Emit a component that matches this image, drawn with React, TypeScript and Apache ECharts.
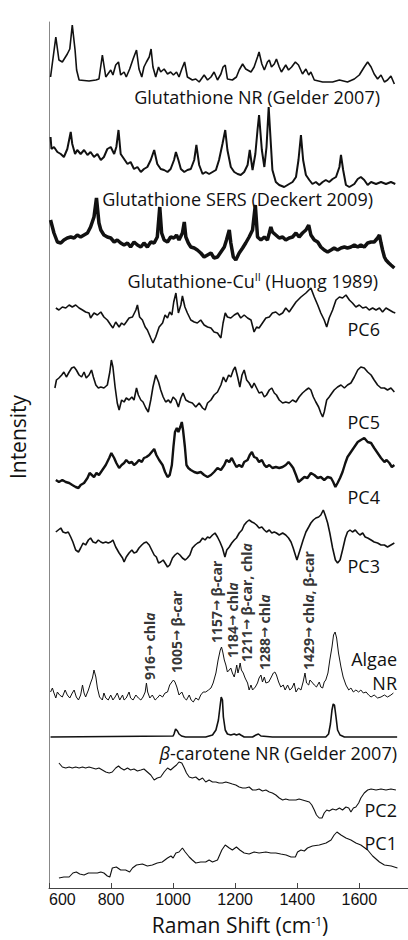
import React, { useEffect, useRef } from "react";
import * as echarts from "echarts";

// Raman shift axis
const X_MIN = 600;
const X_MAX = 1757;
const X_TICKS = [600, 800, 1000, 1200, 1400, 1600];
const Y_MAX = 866;

// Vertical offsets of each stacked trace (arbitrary intensity units)
const OFF_NR = 806;
const OFF_SERS = 701;
const OFF_CU = 638;
const OFF_PC6 = 568;
const OFF_PC5 = 488;
const OFF_PC4 = 408;
const OFF_PC3 = 338;
const OFF_ALGAE = 188;
const OFF_BCAR = 151;
const OFF_PC2 = 98;
const OFF_PC1 = 10;

const glutNR: [number, number][] = [[605,5],[622,45],[632,22],[643,20],[659,28],[667,33],[675,57],[684,32],[689,12],[697,2],[729,1],[751,2],[761,3],[772,27],[783,5],[799,12],[806,7],[815,17],[824,20],[831,7],[842,10],[849,5],[860,13],[871,23],[882,32],[890,13],[899,5],[906,15],[914,20],[923,25],[929,33],[935,15],[944,5],[953,15],[960,10],[971,13],[982,8],[992,10],[1001,7],[1011,10],[1019,5],[1028,13],[1037,20],[1046,5],[1062,2],[1073,3],[1084,0],[1100,7],[1111,2],[1122,5],[1132,10],[1143,2],[1154,8],[1161,15],[1168,17],[1175,3],[1191,2],[1204,5],[1213,12],[1224,18],[1234,13],[1251,10],[1261,15],[1272,25],[1277,30],[1286,18],[1294,12],[1304,20],[1310,22],[1317,15],[1326,18],[1333,23],[1342,15],[1349,10],[1363,17],[1372,12],[1382,15],[1394,20],[1404,17],[1417,8],[1428,13],[1437,7],[1444,10],[1455,2],[1482,0],[1514,0],[1536,2],[1562,0],[1584,3],[1600,7],[1616,15],[1627,20],[1638,15],[1648,8],[1659,3],[1670,7],[1681,0],[1691,2],[1702,6],[1713,-2]];

const glutSERS: [number, number][] = [[605,50],[608,38],[616,40],[627,35],[638,33],[648,30],[659,38],[670,55],[675,43],[684,33],[691,37],[702,33],[713,37],[724,32],[734,35],[745,30],[756,33],[767,27],[777,30],[788,38],[799,40],[810,33],[817,40],[824,57],[831,33],[842,28],[853,23],[863,25],[874,18],[885,20],[896,15],[906,18],[917,20],[928,27],[939,37],[949,23],[960,18],[971,17],[982,15],[992,18],[1003,27],[1009,35],[1017,27],[1025,18],[1036,15],[1046,17],[1057,18],[1068,27],[1075,42],[1084,22],[1095,13],[1105,15],[1116,13],[1127,15],[1138,17],[1148,27],[1159,43],[1168,57],[1175,37],[1186,20],[1197,15],[1208,13],[1218,12],[1229,15],[1240,22],[1247,37],[1256,17],[1265,33],[1272,57],[1277,72],[1286,37],[1294,20],[1301,40],[1308,80],[1315,43],[1320,17],[1331,5],[1342,2],[1358,0],[1374,3],[1385,5],[1396,10],[1404,27],[1412,52],[1419,27],[1428,12],[1439,7],[1449,3],[1460,5],[1471,2],[1482,5],[1492,7],[1503,5],[1514,8],[1525,10],[1536,20],[1541,32],[1548,17],[1557,2],[1568,0],[1584,3],[1595,8],[1605,10],[1616,7],[1627,2],[1638,5],[1654,3],[1670,5],[1686,3],[1702,5],[1716,3]];

const glutCu: [number, number][] = [[605,30],[616,17],[627,8],[638,7],[648,10],[659,12],[670,13],[681,12],[691,15],[702,13],[713,15],[724,17],[734,23],[745,33],[753,52],[761,27],[767,20],[777,15],[788,13],[799,12],[810,8],[820,10],[831,7],[842,5],[853,7],[863,3],[874,8],[885,5],[896,3],[906,7],[917,3],[928,8],[939,7],[949,13],[957,43],[963,17],[971,10],[982,8],[992,13],[1003,12],[1011,15],[1019,10],[1030,17],[1036,28],[1041,13],[1049,7],[1057,3],[1068,2],[1078,0],[1089,-3],[1100,-7],[1111,-5],[1122,-3],[1132,-8],[1143,-7],[1154,-2],[1165,3],[1172,10],[1181,20],[1186,7],[1194,-7],[1202,-10],[1213,-3],[1224,2],[1234,7],[1245,13],[1256,20],[1265,45],[1272,13],[1283,10],[1294,13],[1304,10],[1310,17],[1315,23],[1320,18],[1331,15],[1342,12],[1353,13],[1363,10],[1374,12],[1385,13],[1396,17],[1406,13],[1417,17],[1428,20],[1437,25],[1444,15],[1455,10],[1466,8],[1476,3],[1487,0],[1498,-2],[1509,0],[1519,2],[1530,0],[1541,2],[1552,3],[1562,2],[1573,3],[1584,5],[1595,3],[1605,5],[1616,3],[1627,7],[1638,8],[1648,8],[1659,12],[1665,15],[1670,7],[1675,0],[1681,-7],[1686,-10],[1695,-13],[1702,-15],[1713,-18]];

const pc6: [number, number][] = [[622,12],[632,10],[643,13],[654,12],[665,15],[675,13],[686,15],[697,12],[708,10],[718,8],[729,7],[734,2],[745,7],[756,5],[767,8],[777,3],[788,0],[799,-5],[806,-8],[815,-2],[826,-7],[834,-3],[842,-5],[849,-2],[858,2],[869,3],[880,10],[885,15],[892,3],[901,0],[910,-7],[917,-10],[928,-18],[935,-23],[944,-17],[955,-7],[966,-3],[974,5],[982,2],[989,8],[996,5],[1002,18],[1009,27],[1017,7],[1025,15],[1030,24],[1038,13],[1046,7],[1057,0],[1068,-2],[1078,-3],[1089,0],[1100,-5],[1111,-7],[1122,-8],[1132,-12],[1143,-13],[1154,-18],[1161,-3],[1168,7],[1175,3],[1186,2],[1197,5],[1208,7],[1218,2],[1229,5],[1240,2],[1251,0],[1261,-12],[1269,-7],[1277,-8],[1288,-3],[1299,2],[1310,3],[1320,7],[1331,8],[1342,5],[1353,7],[1363,12],[1374,8],[1385,13],[1396,18],[1412,23],[1428,27],[1444,32],[1455,23],[1466,15],[1476,7],[1487,0],[1495,-7],[1503,2],[1514,10],[1525,20],[1536,23],[1546,22],[1557,25],[1568,20],[1578,17],[1589,13],[1600,15],[1611,12],[1622,13],[1632,10],[1643,12],[1654,10],[1665,12],[1675,8],[1686,12],[1697,10],[1708,8],[1716,7]];

const pc5: [number, number][] = [[619,12],[624,20],[632,22],[641,25],[648,28],[656,23],[665,28],[673,32],[681,33],[688,30],[697,25],[705,23],[713,28],[720,22],[729,25],[737,30],[743,23],[751,15],[759,12],[767,13],[777,12],[788,15],[796,28],[801,40],[806,33],[813,13],[820,-3],[826,-10],[834,0],[842,-2],[849,2],[858,0],[867,3],[874,0],[882,12],[888,5],[896,0],[903,-2],[912,-8],[920,-12],[928,0],[935,13],[944,25],[953,18],[960,10],[968,3],[976,-2],[985,0],[992,-3],[1000,3],[1009,0],[1017,-7],[1025,2],[1032,7],[1041,0],[1052,-2],[1062,-3],[1073,-7],[1084,-3],[1095,-8],[1103,-10],[1111,-3],[1122,0],[1132,5],[1143,8],[1154,15],[1162,23],[1170,18],[1179,25],[1186,23],[1194,30],[1200,33],[1208,23],[1215,13],[1222,25],[1229,30],[1237,20],[1245,17],[1254,12],[1261,17],[1269,12],[1277,7],[1286,8],[1294,3],[1301,5],[1310,10],[1318,12],[1326,7],[1333,5],[1342,0],[1353,-3],[1363,-2],[1374,-3],[1385,0],[1396,-2],[1406,3],[1417,7],[1428,10],[1437,12],[1444,10],[1452,3],[1460,-2],[1469,-7],[1476,-13],[1482,-17],[1487,-12],[1495,0],[1503,3],[1512,7],[1519,10],[1530,13],[1541,15],[1552,12],[1562,15],[1573,17],[1584,23],[1595,30],[1605,33],[1616,32],[1627,28],[1638,25],[1648,20],[1659,15],[1670,12],[1681,12],[1691,10],[1702,12],[1713,8]];

const pc4: [number, number][] = [[622,0],[632,-2],[643,0],[654,-2],[665,-3],[675,-5],[686,-7],[695,-8],[702,-5],[713,-3],[724,2],[731,7],[738,5],[745,3],[753,7],[761,5],[772,10],[783,15],[794,22],[801,27],[810,22],[817,17],[826,12],[834,15],[842,17],[849,20],[858,17],[867,18],[874,15],[882,17],[890,20],[899,18],[906,22],[914,23],[923,25],[931,28],[939,31],[946,25],[955,20],[966,15],[974,8],[982,3],[989,5],[996,15],[1001,33],[1006,48],[1012,52],[1017,48],[1023,53],[1028,58],[1032,50],[1038,33],[1043,15],[1049,12],[1057,10],[1068,8],[1078,7],[1089,8],[1100,5],[1111,3],[1122,5],[1132,8],[1143,12],[1154,10],[1165,15],[1172,20],[1181,18],[1189,22],[1197,17],[1204,13],[1213,15],[1222,13],[1229,18],[1240,20],[1247,25],[1254,28],[1261,23],[1269,22],[1277,18],[1286,20],[1294,15],[1301,13],[1310,15],[1320,12],[1331,13],[1342,12],[1353,13],[1363,15],[1372,18],[1380,15],[1387,12],[1396,5],[1404,-2],[1412,0],[1423,3],[1433,2],[1444,7],[1455,5],[1466,2],[1476,3],[1487,0],[1498,3],[1509,2],[1516,-2],[1523,-7],[1530,-3],[1538,2],[1546,8],[1555,17],[1562,23],[1573,28],[1584,33],[1595,38],[1605,40],[1616,42],[1627,38],[1638,37],[1648,32],[1659,27],[1670,22],[1681,18],[1688,20],[1697,17],[1705,13],[1713,15]];

const pc3: [number, number][] = [[622,18],[630,20],[638,22],[645,18],[654,17],[662,18],[670,13],[677,8],[686,0],[695,-2],[702,2],[710,7],[718,5],[727,10],[734,12],[742,8],[751,7],[759,10],[767,8],[774,7],[783,8],[791,7],[799,8],[806,10],[815,3],[826,-3],[837,-8],[842,-12],[849,-7],[858,-3],[867,0],[874,-3],[882,-2],[890,2],[899,5],[906,7],[914,8],[923,5],[931,0],[939,-5],[946,-7],[953,-13],[960,-12],[968,-10],[974,-13],[982,-17],[989,-15],[998,-8],[1006,-5],[1014,-3],[1022,-5],[1030,-8],[1039,-10],[1046,-8],[1054,-5],[1062,2],[1071,5],[1079,7],[1086,8],[1095,12],[1103,10],[1111,13],[1118,12],[1127,15],[1135,17],[1143,13],[1151,8],[1159,2],[1167,-7],[1173,0],[1181,3],[1189,7],[1197,10],[1204,12],[1213,17],[1222,20],[1229,25],[1237,28],[1245,30],[1254,28],[1261,27],[1269,25],[1277,22],[1286,23],[1294,20],[1301,18],[1310,20],[1318,17],[1326,18],[1333,17],[1342,15],[1353,17],[1363,15],[1372,12],[1380,8],[1387,2],[1394,-5],[1399,-10],[1404,-5],[1412,3],[1419,10],[1428,18],[1437,23],[1444,27],[1452,30],[1460,32],[1469,33],[1476,35],[1484,40],[1490,35],[1498,27],[1505,17],[1514,2],[1523,-10],[1530,-13],[1538,-10],[1546,0],[1555,12],[1562,18],[1570,20],[1578,18],[1587,20],[1595,17],[1602,15],[1611,17],[1619,13],[1627,12],[1638,10],[1648,8],[1659,7],[1670,5],[1681,5],[1691,3],[1702,5],[1713,7]];

const algaeNR: [number, number][] = [[605,8],[611,12],[616,7],[622,2],[627,8],[634,5],[643,3],[652,10],[659,5],[667,2],[675,7],[681,10],[688,3],[695,0],[702,5],[708,15],[713,7],[718,3],[727,10],[734,17],[740,22],[745,30],[751,23],[756,12],[763,3],[772,0],[777,7],[783,2],[791,0],[799,5],[806,0],[813,3],[820,7],[828,0],[837,5],[842,0],[849,2],[858,8],[863,2],[871,0],[880,5],[888,2],[896,0],[903,3],[910,8],[914,17],[918,8],[925,2],[933,5],[942,0],[949,2],[957,5],[966,3],[974,7],[982,8],[989,15],[996,18],[1001,20],[1006,18],[1012,13],[1019,5],[1028,8],[1036,2],[1043,0],[1052,5],[1058,0],[1065,-2],[1073,2],[1082,0],[1089,5],[1097,8],[1105,8],[1114,10],[1122,12],[1129,17],[1138,27],[1145,40],[1152,50],[1156,53],[1160,48],[1165,40],[1170,35],[1175,28],[1181,30],[1186,32],[1191,27],[1197,23],[1202,30],[1205,35],[1209,27],[1213,32],[1216,37],[1220,30],[1226,27],[1232,22],[1240,17],[1245,10],[1251,15],[1256,10],[1265,13],[1272,17],[1277,22],[1283,25],[1288,18],[1294,23],[1299,17],[1308,18],[1315,22],[1323,27],[1328,28],[1333,25],[1340,18],[1347,13],[1355,15],[1361,10],[1369,15],[1376,10],[1383,12],[1390,17],[1396,8],[1404,12],[1412,10],[1419,18],[1425,27],[1430,17],[1437,15],[1441,20],[1447,18],[1455,15],[1462,13],[1471,18],[1476,13],[1482,12],[1487,18],[1492,20],[1499,27],[1505,40],[1512,53],[1517,65],[1522,68],[1527,62],[1533,47],[1541,33],[1548,23],[1557,15],[1566,10],[1573,12],[1581,8],[1589,10],[1598,8],[1605,10],[1613,7],[1622,8],[1630,5],[1638,3],[1648,5],[1659,2],[1670,3],[1681,5],[1691,3],[1702,5],[1710,7]];

const bCarotene: [number, number][] = [[605,0],[1000,1],[1003,3],[1008,8],[1014,6],[1019,3],[1027,1],[1040,0],[1105,0],[1127,2],[1138,7],[1146,17],[1151,30],[1155,40],[1159,37],[1162,20],[1168,7],[1175,3],[1186,2],[1197,3],[1204,2],[1213,3],[1218,2],[1229,0],[1256,0],[1267,2],[1275,3],[1283,1],[1320,0],[1492,0],[1501,3],[1507,13],[1512,27],[1516,33],[1520,32],[1525,20],[1530,7],[1538,2],[1552,0],[1722,0]];

const pc2: [number, number][] = [[632,27],[643,23],[654,22],[665,23],[675,22],[686,23],[697,22],[708,23],[718,22],[729,23],[740,22],[751,21],[761,22],[772,20],[783,18],[794,17],[804,18],[815,22],[824,24],[831,22],[842,20],[853,22],[863,20],[874,21],[885,19],[896,20],[906,21],[917,18],[928,15],[939,10],[949,12],[960,13],[971,18],[982,22],[992,20],[1003,23],[1011,25],[1019,28],[1028,27],[1036,22],[1043,17],[1052,13],[1062,12],[1073,13],[1084,10],[1095,12],[1105,8],[1116,10],[1127,8],[1138,8],[1148,7],[1159,7],[1170,8],[1181,7],[1191,6],[1202,5],[1213,3],[1224,2],[1234,2],[1245,3],[1256,0],[1267,0],[1277,1],[1288,-1],[1299,0],[1310,-2],[1320,-3],[1331,-5],[1342,-8],[1353,-10],[1363,-9],[1374,-10],[1385,-10],[1396,-10],[1406,-9],[1417,-10],[1428,-11],[1439,-12],[1447,-15],[1455,-20],[1462,-25],[1471,-28],[1480,-28],[1487,-23],[1495,-20],[1503,-21],[1514,-19],[1525,-20],[1536,-18],[1546,-20],[1557,-17],[1566,-18],[1573,-22],[1581,-18],[1589,-17],[1598,-13],[1605,-8],[1616,-3],[1627,0],[1638,1],[1654,0],[1670,1],[1686,0],[1702,1],[1718,0]];

const pc1: [number, number][] = [[632,0],[648,1],[665,1],[677,5],[688,6],[699,4],[713,3],[727,5],[740,5],[756,5],[767,6],[777,5],[788,2],[796,1],[804,10],[817,11],[831,8],[847,8],[860,6],[869,10],[882,13],[901,14],[917,12],[933,13],[949,15],[965,16],[982,20],[993,22],[1000,20],[1009,25],[1019,26],[1030,30],[1039,26],[1052,21],[1062,18],[1073,15],[1089,16],[1105,16],[1116,18],[1127,16],[1143,18],[1157,28],[1168,33],[1181,30],[1191,28],[1204,31],[1215,28],[1229,25],[1245,24],[1261,26],[1277,25],[1299,26],[1315,25],[1331,25],[1347,24],[1364,23],[1380,21],[1394,21],[1401,26],[1412,28],[1423,27],[1433,30],[1449,32],[1471,33],[1493,35],[1509,38],[1519,43],[1528,46],[1541,43],[1557,40],[1573,38],[1589,35],[1605,33],[1627,28],[1643,22],[1665,16],[1681,13],[1703,12],[1723,10]];

// Band assignments on the algae spectrum
const annotShift = [916, 1005, 1157, 1184, 1211, 1288, 1429];
const annotTarget = ["chl{i|a}", "β-car", "β-car", "chl{i|a}", "β-car, chl{i|a}", "chl{i|a}", "chl{i|a}, β-car"];
const annotX = [925, 1012, 1141, 1190, 1238, 1296, 1435];
const annotY = [208, 215, 245, 230, 226, 218, 218];

const FONT = "'Open Sans', 'Noto Sans', sans-serif";
const NARROW = "'Liberation Sans Narrow', 'Open Sans', sans-serif";

export default function App() {
  const ref = useRef<HTMLDivElement>(null);
  useEffect(() => {
    if (!ref.current) return;
    const chart = echarts.init(ref.current, null, { renderer: "svg" });
    const mk = (name: string, data: [number, number][], offset: number, width: number) => ({
      name,
      type: "line",
      data: data.map(([x, v]) => [x, v + offset]),
      showSymbol: false,
      symbol: "none",
      clip: false,
      silent: true,
      lineStyle: { color: "#111", width },
      z: 3,
    });
    const txt = (text: string, x: number, y: number, extra: any = {}) => ({
      type: "text",
      x,
      y,
      silent: true,
      style: {
        text,
        fill: "#111",
        fontSize: 18,
        fontFamily: FONT,
        align: "right",
        textAlign: "right",
        verticalAlign: "middle",
        textVerticalAlign: "middle",
        ...extra,
      },
    });
    chart.setOption({
      animation: false,
      backgroundColor: "#fff",
      grid: { left: 49, right: 0, top: 22, bottom: 52 },
      xAxis: {
        type: "value",
        min: X_MIN,
        max: X_MAX,
        axisLine: { show: true, lineStyle: { color: "#444", width: 1 } },
        axisTick: { show: true, inside: true, length: 5, customValues: X_TICKS, lineStyle: { color: "#444" } },
        axisLabel: {
          show: true,
          customValues: X_TICKS,
          formatter: (v: number) => String(v),
          fontSize: 16,
          fontFamily: "'Liberation Sans', Arial, sans-serif",
          color: "#111",
          margin: 3,
          alignMinLabel: "left",
        },
        splitLine: { show: false },
      },
      yAxis: {
        type: "value",
        min: 0,
        max: Y_MAX,
        axisLine: { show: true, lineStyle: { color: "#888", width: 1 } },
        axisTick: { show: false },
        axisLabel: { show: false },
        splitLine: { show: false },
      },
      series: [
        mk("Glutathione NR", glutNR, OFF_NR, 1.6),
        mk("Glutathione SERS", glutSERS, OFF_SERS, 2),
        mk("Glutathione-Cu", glutCu, OFF_CU, 3.5),
        mk("PC6", pc6, OFF_PC6, 1.6),
        mk("PC5", pc5, OFF_PC5, 1.6),
        mk("PC4", pc4, OFF_PC4, 2.4),
        mk("PC3", pc3, OFF_PC3, 1.6),
        mk("Algae NR", algaeNR, OFF_ALGAE, 1),
        mk("beta-carotene NR", bCarotene, OFF_BCAR, 1.6),
        mk("PC2", pc2, OFF_PC2, 1.1),
        mk("PC1", pc1, OFF_PC1, 1.1),
        {
          name: "annotations",
          type: "scatter",
          symbolSize: 1,
          itemStyle: { color: "rgba(0,0,0,0)" },
          silent: true,
          z: 5,
          data: annotX.map((x, i) => ({
            name: `${annotShift[i]}{r|→} ${annotTarget[i]}`,
            value: [x, annotY[i]],
          })),
          label: {
            show: true,
            position: "inside",
            rotate: 90,
            align: "left",
            verticalAlign: "middle",
            formatter: (p: any) => p.name,
            fontSize: 14,
            fontWeight: "bold",
            fontFamily: NARROW,
            color: "#000",
            rich: {
              i: { fontSize: 14, fontWeight: "bold", fontStyle: "italic", fontFamily: NARROW, color: "#000" },
              r: { fontSize: 13, fontFamily: "'DejaVu Sans', sans-serif", color: "#000" },
            },
          },
        },
      ],
      graphic: [
        txt("Glutathione NR (Gelder 2007)", 380, 97),
        txt("Glutathione SERS (Deckert 2009)", 373, 199),
        txt("Glutathione-Cu{s|II} (Huong 1989)", 378, 281, {
          rich: { s: { fontSize: 11, fontFamily: FONT, fill: "#111", padding: [0, 0, 9, 0] } },
        }),
        txt("PC6", 380, 329),
        txt("PC5", 380, 422),
        txt("PC4", 380, 497),
        txt("PC3", 380, 566),
        txt("Algae", 397, 659),
        txt("NR", 397, 683),
        txt("{b|β}-carotene NR (Gelder 2007)", 397, 753, {
          rich: { b: { fontSize: 18, fontStyle: "italic", fontFamily: FONT, fill: "#111" } },
        }),
        txt("PC2", 397, 810),
        txt("PC1", 397, 843),
        {
          type: "text",
          x: 18,
          y: 437,
          rotation: Math.PI / 2,
          silent: true,
          style: {
            text: "Intensity",
            fill: "#111",
            fontSize: 21,
            fontFamily: FONT,
            align: "center",
            textAlign: "center",
            verticalAlign: "middle",
            textVerticalAlign: "middle",
          },
        },
        {
          type: "text",
          x: 240,
          y: 925,
          silent: true,
          style: {
            text: "Raman Shift (cm{s|-1})",
            fill: "#111",
            fontSize: 21,
            fontFamily: FONT,
            align: "center",
            textAlign: "center",
            verticalAlign: "middle",
            textVerticalAlign: "middle",
            rich: { s: { fontSize: 12, fontFamily: FONT, fill: "#111", padding: [0, 0, 8, 0] } },
          },
        },
      ],
    });
    return () => chart.dispose();
  }, []);
  return <div ref={ref} style={{ position: "fixed", left: 0, top: 0, width: 408, height: 940 }} />;
}
